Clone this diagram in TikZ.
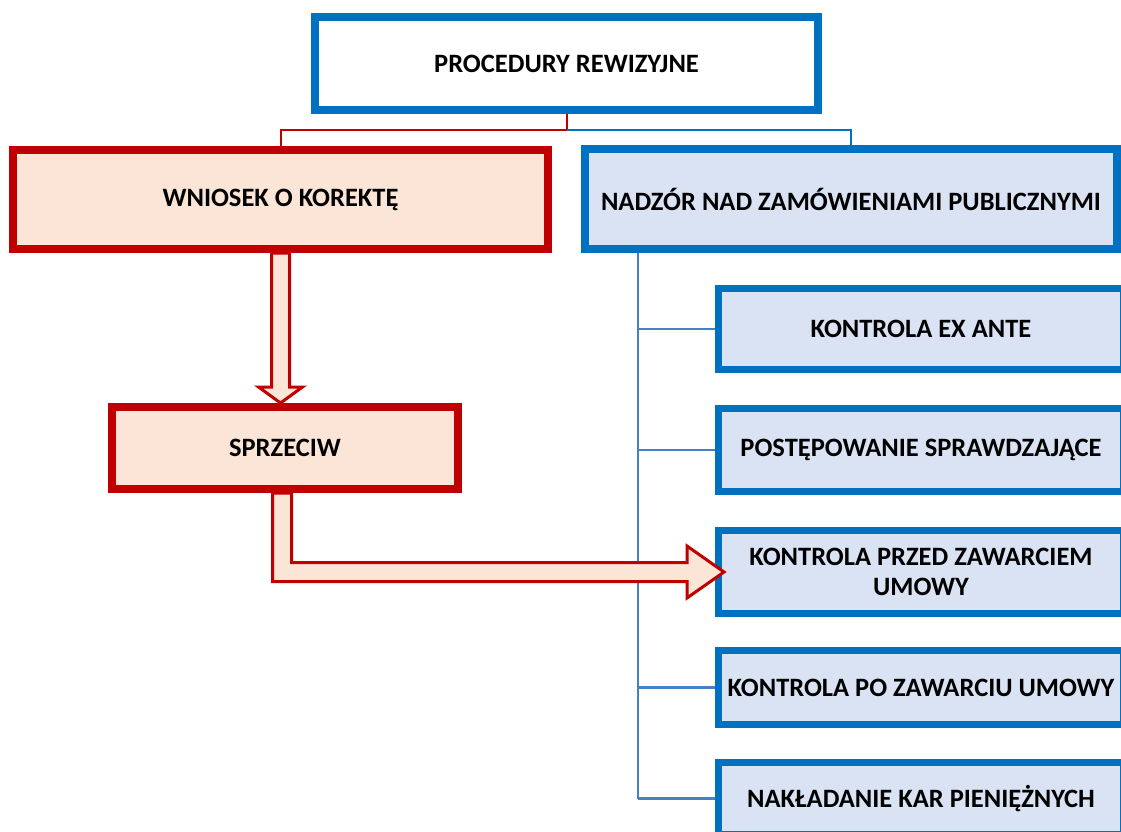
\documentclass[tikz,border=0pt]{standalone}
\usepackage{fontspec}
\setmainfont{Carlito}
\usetikzlibrary{calc}

\definecolor{boxred}{HTML}{C00000}
\definecolor{boxblue}{HTML}{0070C0}
\definecolor{peach}{HTML}{FBE5D6}
\definecolor{paleblue}{HTML}{DAE3F3}
\definecolor{treeblue}{RGB}{70,130,195}

\tikzset{
  box/.style={rectangle, inner sep=0pt, align=center,
    font=\fontsize{26.5}{30}\selectfont\bfseries},
  headbox/.style={box, draw=boxblue, line width=8pt, fill=white},
  redbox/.style={box, draw=boxred, line width=8pt, fill=peach},
  bluebox/.style={box, draw=boxblue, line width=8pt, fill=paleblue},
  subbox/.style={box, draw=boxblue, line width=7pt, fill=paleblue,
    minimum width=405pt},
  redlink/.style={draw=boxred, line width=2pt},
  bluelink/.style={draw=boxblue, line width=2pt},
  treelink/.style={draw=treeblue, line width=2.2pt},
  hollowarrow/.style={draw=boxred, line width=3pt, fill=peach, line join=miter},
}

\begin{document}
\begin{tikzpicture}[x=1pt, y=-1pt]
  \clip (0,0) rectangle (1121,832);
  \fill[white] (0,0) rectangle (1121,832);

  % main boxes
  \node[headbox, minimum width=503pt, minimum height=93pt] (top) at (566.5,63.5) {PROCEDURY REWIZYJNE};
  \node[redbox, minimum width=535pt, minimum height=99pt] (wniosek) at (280.5,199.5) {WNIOSEK O KOREKTĘ};
  \node[bluebox, minimum width=532pt, minimum height=100pt] (nadzor) at (851,199) {NADZÓR NAD ZAMÓWIENIAMI PUBLICZNYMI};
  \node[redbox, minimum width=346pt, minimum height=82pt] (sprzeciw) at (285,448) {SPRZECIW};

  % supervision tree (drawn before its boxes)
  \coordinate (trunk) at (638,253);
  \coordinate (trunkend) at (638,798.5);
  \draw[treelink] (trunk) -- (trunkend);
  \draw[treelink] (638,329) -- (715,329);
  \draw[treelink] (638,450) -- (715,450);
  \draw[treelink] (638,572) -- (715,572);
  \draw[treelink] (638,687.5) -- (715,687.5);
  \draw[treelink] (trunkend) -- (715,798.5);

  \node[subbox, minimum height=81pt] (exante) at (921,329) {KONTROLA EX ANTE};
  \node[subbox, minimum height=83pt] (postep) at (921,450) {POSTĘPOWANIE SPRAWDZAJĄCE};
  \node[subbox, minimum height=83pt] (przed) at (921,572) {KONTROLA PRZED ZAWARCIEM\\UMOWY};
  \node[subbox, minimum height=74pt] (po) at (921,687.5) {KONTROLA PO ZAWARCIU UMOWY};
  \node[subbox, minimum height=72pt] (kary) at (921,798.5) {NAKŁADANIE KAR PIENIĘŻNYCH};

  % top-level split
  \coordinate (split) at ($(top.south)+(0,16)$);
  \draw[redlink] (top.south) -- (split) -| (wniosek.north);
  \draw[bluelink] (split) -| (nadzor.north);

  % hollow arrow: correction request -> objection
  \draw[hollowarrow] let \p1=(wniosek.south), \p2=(sprzeciw.north -| wniosek.south) in
    (\x1-9pt,\y1) -- (\x1-9pt,\y2+16pt) -- (\x1-22pt,\y2+16pt) -- (\x1,\y2)
    -- (\x1+22pt,\y2+16pt) -- (\x1+9pt,\y2+16pt) -- (\x1+9pt,\y1) -- cycle;

  % bent hollow arrow: objection -> control before contract
  \draw[hollowarrow] let \p1=($(sprzeciw.south)+(-3,0)$), \p2=($(przed.west)+(9,0)$) in
    (\x1+9.5pt,\y1) -- (\x1+9.5pt,\y2+9.5pt) -- (\x2-37pt,\y2+9.5pt) -- (\x2-37pt,\y2+26pt)
    -- (\x2,\y2) -- (\x2-37pt,\y2-26pt) -- (\x2-37pt,\y2-9.5pt) -- (\x1-9.5pt,\y2-9.5pt)
    -- (\x1-9.5pt,\y1) -- cycle;
\end{tikzpicture}
\end{document}
